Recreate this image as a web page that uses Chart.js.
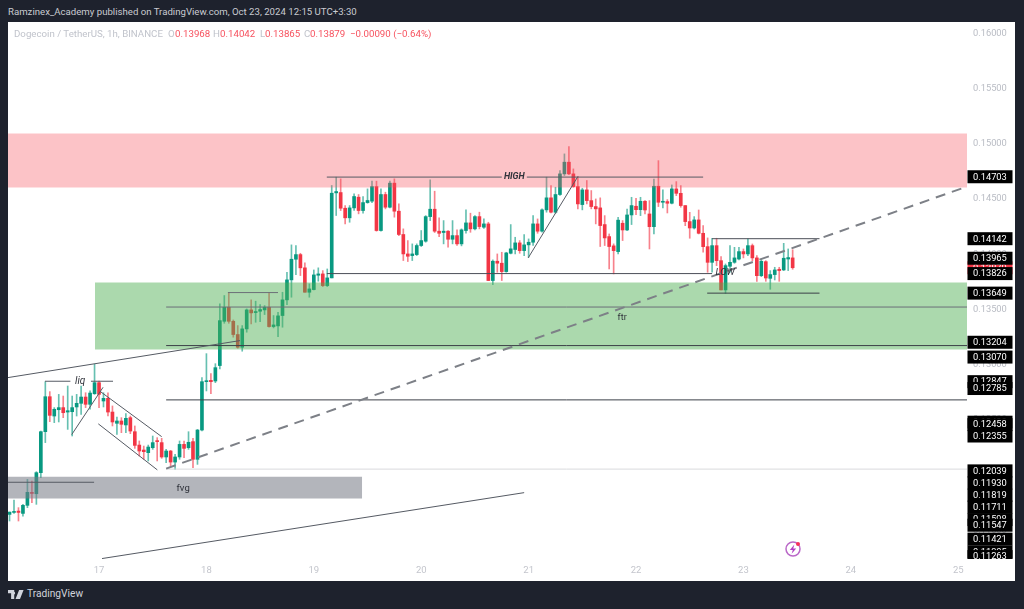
<!DOCTYPE html>
<html><head><meta charset="utf-8">
<style>
html,body{margin:0;padding:0;width:1024px;height:609px;overflow:hidden;background:#1e222d;font-family:Roboto,"Liberation Sans",sans-serif}
#panel{position:absolute;left:8px;top:22px;width:1007px;height:559px;background:#fff}
canvas{display:block}
#pub{position:absolute;left:8px;top:6px;font-size:9.65px;color:#c9cbd1;white-space:nowrap}
#leg span{position:absolute;top:28px;font-size:9.7px;color:#c0c3cb;white-space:nowrap}
#leg span.v{color:#f7525f}
#brand{position:absolute;left:27px;top:588px;font-size:10.2px;color:#d1d4dc;white-space:nowrap}
#logo{position:absolute;left:8px;top:590px}
#bolt{position:absolute;left:783px;top:539px}
</style></head><body>
<div id="panel"><canvas id="c" width="1007" height="559"></canvas></div>
<div id="pub">Ramzinex_Academy published on TradingView.com, Oct 23, 2024 12:15 UTC+3:30</div>
<div id="leg">
<span style="left:14px">Dogecoin / TetherUS, 1h, BINANCE</span>
<span style="left:168px">O</span><span class="v" style="left:175px">0.13968</span>
<span style="left:213px">H</span><span class="v" style="left:220px">0.14042</span>
<span style="left:260px">L</span><span class="v" style="left:265px">0.13865</span>
<span style="left:304px">C</span><span class="v" style="left:310px">0.13879</span>
<span class="v" style="left:350px">−0.00090 (−0.64%)</span>
</div>
<svg id="logo" width="16" height="9" viewBox="0 0 36 20"><path fill="#d1d4dc" d="M0 0h14v20H7V7H0zM25 0h10l-8 20H17zM16 7a3.5 3.5 0 1 1 0-.01z"/></svg>
<div id="brand">TradingView</div>
<svg id="bolt" width="20" height="20" viewBox="0 0 20 20"><circle cx="10" cy="10" r="7" fill="none" stroke="#ba68c8" stroke-width="1.5"/><path d="M11.4 5.6 6.8 11h3l-1.2 3.8 4.6-5.4h-3z" fill="#b23fc4"/><circle cx="15" cy="5" r="2" fill="#f7305a"/></svg>
<script src="https://cdn.jsdelivr.net/npm/chart.js@4/dist/chart.umd.js"></script>
<script>
const firstHour = -20;
const opens = [.11645,.11663,.11675,.11654,.11727,.11841,.11832,.12023,.12394,.12711,.12536,.12593,.12612,.12572,.12575,.12618,.12651,.12708,.12642,.12738,
.12838,.12672,.12696,.12572,.12470,.12491,.12455,.12521,.12394,.12273,.12228,.12204,.12249,.12310,.12295,.12165,.12219,.12119,.12165,.12279,.12249,.12304,.12144,.12409,.12847,.12859,.12853,.12993,
.13394,.13521,.13394,.13274,.13159,.13325,.13497,.13473,.13485,.13497,.13521,.13346,.13352,.13446,.13588,.13769,.13956,.13998,.13878,.13657,.13681,.13811,.13823,.13717,.13787,.14557,.14560,.14418,.14331,.14421,.14518,.14397,.14469,.14482,.14614,.14216,.14542,.14427,.14645,.14391,.14180,.14004,
.13989,.13998,.14080,.14119,.14342,.14409,.14210,.14198,.14210,.14137,.14170,.14095,.14216,.14285,.14231,.14342,.14246,.14276,.13763,.13938,.13920,.13844,.14010,.14044,.14104,.14034,.14086,.14110,.14276,.14210,.14403,.14512,.14382,.14542,.14729,.14835,.14729,.14614,.14451,.14584,.14487,.14433,.14421,.14270,.14161,.14077,
.14025,.14282,.14221,.14357,.14436,.14405,.14481,.14366,.14251,.14617,.14472,.14478,.14463,.14593,.14553,.14442,.14297,.14239,.14312,.14191,.14070,.13928,.14079,.13943,.13678,.13892,.13928,.13958,.14025,.14004,.14079,.13968,.13807,.13934,.13783,.13817,.13865,.13859,.13958,.13968];
const closes = [.11666,.11669,.11663,.11727,.11845,.11835,.12023,.12394,.12711,.12542,.12597,.12612,.12566,.12584,.12612,.12651,.12708,.12642,.12744,.12838,
.12732,.12696,.12572,.12482,.12491,.12461,.12515,.12400,.12270,.12219,.12213,.12255,.12295,.12304,.12165,.12219,.12119,.12165,.12279,.12243,.12298,.12144,.12409,.12847,.12853,.12847,.12974,.13400,
.13521,.13394,.13274,.13159,.13325,.13497,.13470,.13482,.13500,.13521,.13346,.13361,.13443,.13588,.13769,.13956,.13998,.13878,.13657,.13687,.13814,.13823,.13717,.13787,.14554,.14569,.14418,.14331,.14421,.14524,.14397,.14469,.14488,.14614,.14216,.14542,.14427,.14645,.14391,.14180,.14004,.13983,
.14004,.14080,.14125,.14342,.14409,.14210,.14191,.14210,.14137,.14170,.14095,.14222,.14285,.14231,.14342,.14252,.14276,.13763,.13938,.13920,.13844,.14013,.14050,.14104,.14034,.14086,.14110,.14276,.14210,.14403,.14512,.14382,.14542,.14729,.14835,.14729,.14614,.14457,.14584,.14487,.14433,.14412,.14261,.14149,.14071,.14034,
.14310,.14221,.14357,.14442,.14405,.14481,.14402,.14251,.14617,.14472,.14481,.14463,.14593,.14553,.14442,.14297,.14239,.14312,.14191,.14070,.13928,.14079,.13943,.13678,.13898,.13928,.13968,.14025,.14004,.14079,.13968,.13807,.13937,.13786,.13817,.13859,.13853,.13965,.13971,.13879];
const highs = [.11666,.11775,.11706,.11736,.11962,.11947,.12032,.12400,.12847,.12757,.12612,.12732,.12717,.12808,.12717,.12732,.12808,.12747,.12763,.13004,
.12853,.12747,.12747,.12627,.12527,.12521,.12557,.12536,.12446,.12310,.12264,.12273,.12355,.12340,.12334,.12234,.12225,.12189,.12310,.12310,.12394,.12334,.12415,.12883,.13101,.12920,.13010,.13551,
.13627,.13654,.13406,.13355,.13355,.13506,.13588,.13576,.13545,.13536,.13654,.13446,.13476,.13657,.13838,.14086,.14080,.14010,.13923,.13733,.13859,.13878,.13853,.13868,.14624,.14699,.14684,.14442,.14442,.14548,.14542,.14524,.14593,.14663,.14663,.14593,.14563,.14663,.14684,.14457,.14231,.14125,
.14095,.14095,.14216,.14351,.14675,.14572,.14330,.14306,.14216,.14306,.14222,.14231,.14403,.14373,.14351,.14382,.14321,.14291,.13950,.14004,.14019,.14019,.14270,.14155,.14125,.14179,.14140,.14351,.14321,.14412,.14699,.14623,.14608,.14759,.14910,.14977,.14774,.14705,.14599,.14669,.14578,.14502,.14512,.14351,.14185,.14095,
.14336,.14306,.14411,.14517,.14508,.14517,.14487,.14487,.14683,.14849,.14584,.14496,.14629,.14659,.14623,.14442,.14381,.14342,.14402,.14261,.14149,.14146,.14146,.13980,.13913,.14079,.14064,.14064,.14049,.14140,.14094,.13989,.13958,.13943,.13853,.13883,.13883,.14100,.14049,.14042];
const lows = [.11585,.11654,.11585,.11630,.11706,.11751,.11736,.11977,.12295,.12485,.12476,.12482,.12521,.12415,.12355,.12536,.12551,.12612,.12597,.12732,
.12612,.12618,.12536,.12446,.12370,.12385,.12385,.12376,.12243,.12174,.12144,.12129,.12234,.12129,.12153,.12113,.12083,.12053,.12144,.12159,.12234,.12068,.12098,.12400,.12763,.12738,.12838,.12963,
.13376,.13376,.13250,.13150,.13123,.13295,.13370,.13385,.13391,.13455,.13340,.13334,.13255,.13340,.13545,.13612,.13817,.13808,.13657,.13612,.13678,.13757,.13708,.13708,.13787,.14352,.14397,.14276,.14291,.14397,.14367,.14373,.14463,.14469,.14210,.14210,.14412,.14421,.14337,.14170,.13944,.13935,
.13944,.13989,.14071,.14110,.14306,.14198,.14161,.14095,.14065,.14095,.14080,.14077,.14191,.14200,.14222,.14231,.14234,.13763,.13726,.13838,.13763,.13838,.14004,.14004,.14010,.13989,.13974,.14080,.14191,.14200,.14382,.14376,.14373,.14533,.14714,.14723,.14608,.14412,.14403,.14457,.14412,.14276,.14071,.14080,.13868,.13823,
.14004,.14125,.14215,.14270,.14360,.14351,.14366,.14049,.14185,.14433,.14421,.14375,.14457,.14532,.14427,.14260,.14146,.14230,.14185,.14019,.13838,.13838,.13898,.13678,.13647,.13838,.13919,.13949,.13968,.13989,.13943,.13756,.13798,.13756,.13684,.13768,.13756,.13853,.13853,.13865];

const dayHours = [0,24,48,72,96,120,144,168,192];
const dayLabels = ['17','18','19','20','21','22','23','24','25'];
const priceTicks = [.16,.155,.15,.145,.14,.135,.13,.125,.12,.115];
const currentPrice = .13879;
const tagPrices = [.14703,.14142,.13965,.13826,.13649,.13204,.13070,.12847,.12785,.12480,.12458,.12355,.12039,.11930,.11819,.11711,.11598,.11547,.11305,.11421,.11263];

const xMin = -20.34, xMax = 193.96, yMin = .11241, yMax = .161046;
const C_UP = '#089981', C_DOWN = '#f23645';

const zones = [
 {x:[xMin,xMax], y:[.14605,.15094], color:'rgba(247,82,95,.35)'},
 {x:[-0.9,xMax], y:[.13138,.13745], color:'rgba(76,175,80,.47)'},
 {x:[xMin,58.8], y:[.11788,.11987], color:'rgba(120,123,134,.56)'}
];
const solidLines = [
 {p:[[xMin,.12884],[31.5,.13219]], c:'#555a63'},
 {p:[[.67,.11245],[95,.11842]], c:'#555a63'},
 {p:[[-12.07,.12851],[-6.4,.12851]], c:'#555a63'},
 {p:[[-1.8,.12851],[3.13,.12851]], c:'#555a63'},
 {p:[[-6.1,.12368],[.9,.12796]], c:'#555a63'},
 {p:[[.22,.12760],[14,.12349]], c:'#555a63'},
 {p:[[-.16,.12465],[13.03,.12048]], c:'#555a63'},
 {p:[[15,.12682],[xMax,.12682]], c:'#3c4048'},
 {p:[[15,.12055],[xMax,.12055]], c:'#d9dadd'},
 {p:[[15,.13523],[xMax,.13523]], c:'#6b6f78'},
 {p:[[15,.13174],[xMax,.13174]], c:'#3c4048'},
 {p:[[xMin,.11936],[-1.1,.11936]], c:'#555a63'},
 {p:[[28.8,.13654],[40,.13654]], c:'#6b6f78'},
 {p:[[50.9,.14700],[90,.14700]], c:'#555a63'},
 {p:[[95.6,.14700],[135,.14700]], c:'#555a63'},
 {p:[[50.9,.13826],[137,.13826]], c:'#4a4e57'},
 {p:[[95.9,.13968],[107,.14705]], c:'#555a63'},
 {p:[[137,.14142],[161,.14142]], c:'#4a4e57'},
 {p:[[135.9,.13649],[161,.13649]], c:'#3c4048'}
];
const dashLine = [[15,.12060],[xMax,.14614]];
const notes = [
 {t:'liq',x:-4.2,y:.12851,f:'italic 10px Roboto'},
 {t:'HIGH',x:92.8,y:.14700,f:'italic bold 9px Roboto'},
 {t:'LOW',x:139.9,y:.13835,f:'italic 9.5px Roboto'},
 {t:'ftr',x:116.9,y:.13430,f:'9px Roboto'},
 {t:'fvg',x:18.8,y:.11880,f:'9.5px Roboto'}
];

const xs = opens.map((_,i)=>firstHour+i);
const colors = opens.map((o,i)=>closes[i]>=o?C_UP:C_DOWN);
const wickColors = opens.map((o,i)=>closes[i]>=o?'rgba(8,153,129,.62)':'rgba(242,54,69,.62)');
const toPts = a=>a.map(([x,y])=>({x,y}));

const datasets = [
 {type:'bar',order:30,data:xs.map((x,i)=>({x,y:[lows[i],highs[i]]})),backgroundColor:wickColors,barThickness:1,grouped:false},
 {type:'bar',order:29,data:xs.map((x,i)=>({x,y:[opens[i],closes[i]]})),backgroundColor:colors,barThickness:3,minBarLength:1,grouped:false},
];
zones.forEach(z=>datasets.push({type:'line',order:20,data:[{x:z.x[0],y:z.y[1]},{x:z.x[1],y:z.y[1]}],
  borderWidth:0,borderColor:'transparent',pointRadius:0,backgroundColor:z.color,fill:{value:z.y[0]}}));
solidLines.forEach(l=>datasets.push({type:'line',order:10,data:toPts(l.p),borderColor:l.c,borderWidth:1,pointRadius:0,fill:false}));
datasets.push({type:'line',order:9,data:toPts(dashLine),borderColor:'#7d8087',borderWidth:2,borderDash:[10,7],pointRadius:0,fill:false});

const tagsPlugin = {id:'tags',afterDraw(ch){
  const c=ch.ctx, ys=ch.scales.y, xsc=ch.scales.x, a=ch.chartArea;
  c.save();
  c.textBaseline='middle';
  notes.forEach(n=>{c.font=n.f;c.fillStyle='#30333b';c.textAlign='center';
    c.fillText(n.t,xsc.getPixelForValue(n.x),ys.getPixelForValue(n.y));});
  c.beginPath();c.rect(a.right,a.top,ch.width-a.right,a.bottom-a.top);c.clip();
  c.font='9.3px Roboto';c.textAlign='left';
  const tag=(v,bg)=>{const y=ys.getPixelForValue(v);
    c.fillStyle=bg;c.fillRect(a.right+.5,y-6.5,45,13);
    c.fillStyle='#fff';c.fillText(v.toFixed(5),a.right+6,y+.5);};
  tag(currentPrice,C_DOWN);
  tagPrices.forEach(v=>tag(v,'#000'));
  c.restore();
}};

new Chart(document.getElementById('c'),{
 data:{datasets},
 plugins:[tagsPlugin],
 options:{
  responsive:false,animation:false,events:[],
  layout:{padding:0},
  plugins:{legend:{display:false},tooltip:{enabled:false},title:{display:false}},
  scales:{
   x:{type:'linear',offset:false,min:xMin,max:xMax,grid:{display:false,offset:false,drawTicks:false},border:{display:false},
      afterBuildTicks:s=>{s.ticks=dayHours.map(v=>({value:v}));},
      afterFit:s=>{s.height=22;s.paddingLeft=0;s.paddingRight=0;},
      ticks:{autoSkip:false,maxRotation:0,padding:6,color:'#c3c5cc',font:{size:9.5,family:'Roboto'},
        callback:v=>dayLabels[dayHours.indexOf(v)]}},
   y:{type:'linear',position:'right',min:yMin,max:yMax,grid:{display:false,drawTicks:false},border:{display:false},
      afterBuildTicks:s=>{s.ticks=priceTicks.map(v=>({value:v}));},
      afterFit:s=>{s.width=48;s.paddingTop=0;s.paddingBottom=0;},
      ticks:{autoSkip:false,padding:6,color:'#b9bcc4',font:{size:9.3,family:'Roboto'},
        callback:v=>Number(v).toFixed(5)}}
  }
 }
});
</script></body></html>
